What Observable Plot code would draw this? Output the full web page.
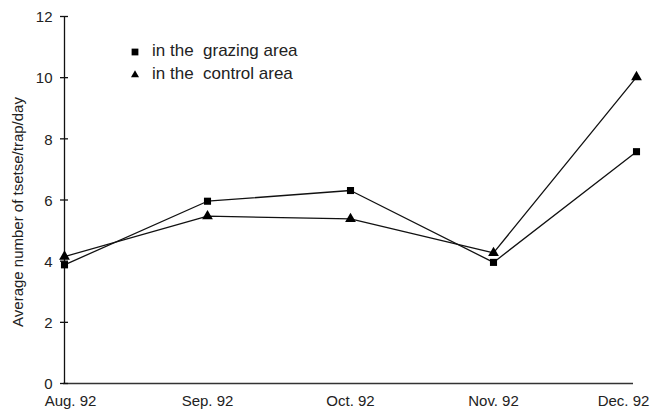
<!DOCTYPE html>
<html>
<head>
<meta charset="utf-8">
<script src="https://cdn.jsdelivr.net/npm/d3@7"></script>
<script src="https://cdn.jsdelivr.net/npm/@observablehq/plot@0.6"></script>
<style>
  html, body { margin: 0; padding: 0; background: #fff; }
  #wrap { position: relative; width: 650px; height: 414px; font-family: "Liberation Sans", Arial, sans-serif; }
  #wrap svg { position: absolute; left: 0; top: 0; }
</style>
</head>
<body>
<div id="wrap"></div>
<script>
const months = ["Aug. 92", "Sep. 92", "Oct. 92", "Nov. 92", "Dec. 92"];
const grazing = [3.88, 5.96, 6.31, 3.96, 7.58];
const control = [4.15, 5.47, 5.38, 4.27, 10.02];
const yTicks = [0, 2, 4, 6, 8, 10, 12];
const seriesNames = ["in the  grazing area", "in the  control area"];

const rows = [];
months.forEach((m, i) => {
  rows.push({month: m, value: grazing[i], series: seriesNames[0]});
  rows.push({month: m, value: control[i], series: seriesNames[1]});
});
const gRows = rows.filter(d => d.series === seriesNames[0]);
const cRows = rows.filter(d => d.series === seriesNames[1]);

const chart = Plot.plot({
  width: 650,
  height: 414,
  marginLeft: 63,
  marginRight: 14,
  marginTop: 16,
  marginBottom: 31,
  style: {fontFamily: "Liberation Sans, Arial, sans-serif", fontSize: "15px", color: "#222", background: "#fff"},
  x: {type: "point", domain: months, padding: 0, axis: null},
  y: {domain: [0, 12], axis: null},
  marks: [
    Plot.ruleY([0], {stroke: "#333", strokeWidth: 1.3, insetRight: 3}),
    Plot.ruleX([months[0]], {y1: 0, y2: 12, stroke: "#111", strokeWidth: 1.3}),
    Plot.ruleY(yTicks, {y: d => d, x1: () => months[0], x2: () => months[0], insetLeft: -4, insetRight: -4, stroke: "#111", strokeWidth: 1.3}),
    Plot.text(yTicks, {x: () => months[0], y: d => d, text: d => String(d), textAnchor: "end", dx: -12, dy: 1, fill: "#222", fontSize: 15}),
    Plot.text(months.slice(1, 4), {x: d => d, frameAnchor: "bottom", dy: 22, text: d => d, fill: "#222", fontSize: 15}),
    Plot.text([months[0]], {x: d => d, frameAnchor: "bottom", dy: 22, dx: 6, text: d => d, fill: "#222", fontSize: 15}),
    Plot.text([months[4]], {x: d => d, frameAnchor: "bottom", dy: 22, dx: -13, text: d => d, fill: "#222", fontSize: 15}),
    Plot.lineY(gRows, {x: "month", y: "value", stroke: "#111", strokeWidth: 1.3}),
    Plot.lineY(cRows, {x: "month", y: "value", stroke: "#111", strokeWidth: 1.3}),
    Plot.dot(gRows, {x: "month", y: "value", symbol: "square", r: 4, fill: "#000", stroke: "none"}),
    Plot.dot(cRows, {x: "month", y: "value", symbol: "triangle", r: 4, fill: "#000", stroke: "none"})
  ]
});
const wrap = document.getElementById("wrap");
wrap.appendChild(chart);

const svg = d3.select(chart);
// y-axis title
svg.append("text")
  .attr("transform", "translate(19,212) rotate(-90)")
  .attr("text-anchor", "middle")
  .attr("dominant-baseline", "middle")
  .attr("font-size", 15)
  .attr("fill", "#222")
  .text("Average number of tsetse/trap/day");

// legend
const legSymbols = [d3.symbolSquare, d3.symbolTriangle];
const legSizes = [46, 28];
const legY = [52, 75];
seriesNames.forEach((name, i) => {
  const g = svg.append("g").attr("transform", `translate(0,${legY[i]})`);
  g.append("path")
    .attr("transform", "translate(135,0)")
    .attr("d", d3.symbol(legSymbols[i], legSizes[i])())
    .attr("fill", "#000");
  g.append("text")
    .attr("x", 152)
    .attr("text-anchor", "start")
    .attr("dominant-baseline", "middle")
    .attr("font-size", 17)
    .attr("fill", "#222")
    .style("white-space", "pre")
    .text(name);
});
</script>
</body>
</html>
